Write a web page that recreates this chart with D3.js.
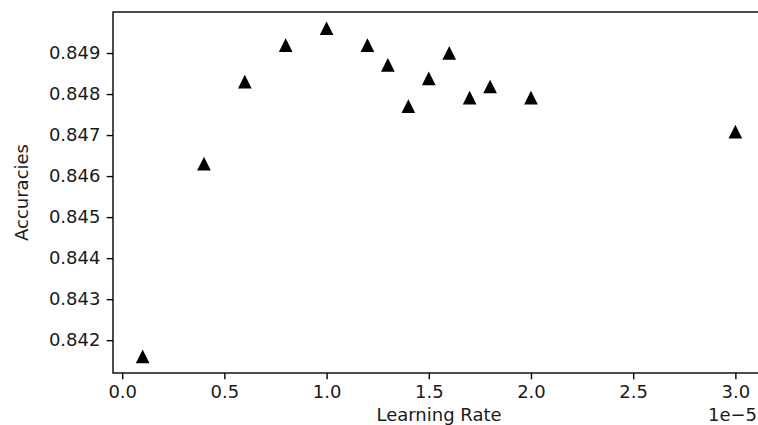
<!DOCTYPE html>
<html>
<head>
<meta charset="utf-8">
<script src="https://cdn.jsdelivr.net/npm/d3@7"></script>
<style>
  html, body { margin: 0; padding: 0; background: #fff; overflow: hidden; }
  svg { display: block; font-family: "DejaVu Sans", sans-serif; }
</style>
</head>
<body>
<svg id="chart" width="758" height="425"></svg>
<script>
// ---- data ----
const learningRates = [0.1, 0.4, 0.6, 0.8, 1.0, 1.2, 1.3, 1.4, 1.5, 1.6, 1.7, 1.8, 2.0, 3.0]; // x 1e-5
const accuracies = [0.84159, 0.84629, 0.84829, 0.84918, 0.84959, 0.84918, 0.84870, 0.84769, 0.84837, 0.84899, 0.84790, 0.84817, 0.84790, 0.84707];
const xTicks = [0.0, 0.5, 1.0, 1.5, 2.0, 2.5, 3.0];
const yTicks = [0.842, 0.843, 0.844, 0.845, 0.846, 0.847, 0.848, 0.849];
const xLabel = "Learning Rate";
const yLabel = "Accuracies";
const offsetText = "1e\u22125";

(function () {
// ---- layout ----
const plotLeft = 113, plotRight = 765, plotTop = 12, plotBottom = 373;
const fontSize = 18;
const tickLen = 6.3, tickPad = 6.3;
const textColor = "#1a1a1a";

const svg = d3.select("#chart");
svg.append("rect").attr("width", 758).attr("height", 425).attr("fill", "#fff");

const x = d3.scaleLinear().domain([-0.045, 3.145]).range([plotLeft, plotRight]);
const y = d3.scaleLinear().domain([0.8412, 0.8500]).range([plotBottom, plotTop]);

// x axis
const gx = svg.append("g").attr("transform", `translate(0,${plotBottom})`)
  .call(d3.axisBottom(x).tickValues(xTicks).tickFormat(d3.format(".1f"))
    .tickSize(tickLen).tickPadding(tickPad));
gx.select(".domain").remove();
gx.selectAll(".tick line").attr("stroke", "#000").attr("stroke-width", 1.4);
gx.selectAll(".tick text").attr("font-size", fontSize).attr("fill", textColor)
  .attr("font-family", "DejaVu Sans");

// y axis
const gy = svg.append("g").attr("transform", `translate(${plotLeft},0)`)
  .call(d3.axisLeft(y).tickValues(yTicks).tickFormat(d3.format(".3f"))
    .tickSize(tickLen).tickPadding(tickPad));
gy.select(".domain").remove();
gy.selectAll(".tick line").attr("stroke", "#000").attr("stroke-width", 1.4);
gy.selectAll(".tick text").attr("font-size", fontSize).attr("fill", textColor)
  .attr("font-family", "DejaVu Sans");

// spines
svg.append("rect")
  .attr("x", plotLeft).attr("y", plotTop)
  .attr("width", plotRight - plotLeft).attr("height", plotBottom - plotTop)
  .attr("fill", "none").attr("stroke", "#000").attr("stroke-width", 1.4);

// markers (triangle up, bbox-centred like matplotlib "^")
const s = 5.4;
svg.append("g").selectAll("path")
  .data(learningRates.map((d, i) => [d, accuracies[i]]))
  .join("path")
  .attr("d", d => {
    const cx = x(d[0]), cy = y(d[1]);
    return `M${cx},${cy - s}L${cx - s},${cy + s}L${cx + s},${cy + s}Z`;
  })
  .attr("fill", "#000").attr("stroke", "#000").attr("stroke-width", 1.8)
  .attr("stroke-linejoin", "miter");

// axis labels
svg.append("text")
  .attr("x", (plotLeft + plotRight) / 2).attr("y", 421)
  .attr("text-anchor", "middle").attr("font-size", fontSize).attr("fill", textColor)
  .text(xLabel);

svg.append("text")
  .attr("transform", `translate(28,${(plotTop + plotBottom) / 2}) rotate(-90)`)
  .attr("text-anchor", "middle").attr("font-size", fontSize).attr("fill", textColor)
  .text(yLabel);

// offset text (kept inside the visible frame)
svg.append("text")
  .attr("x", 757).attr("y", 421)
  .attr("text-anchor", "end").attr("font-size", fontSize).attr("fill", textColor)
  .text(offsetText);
})();
</script>
</body>
</html>
